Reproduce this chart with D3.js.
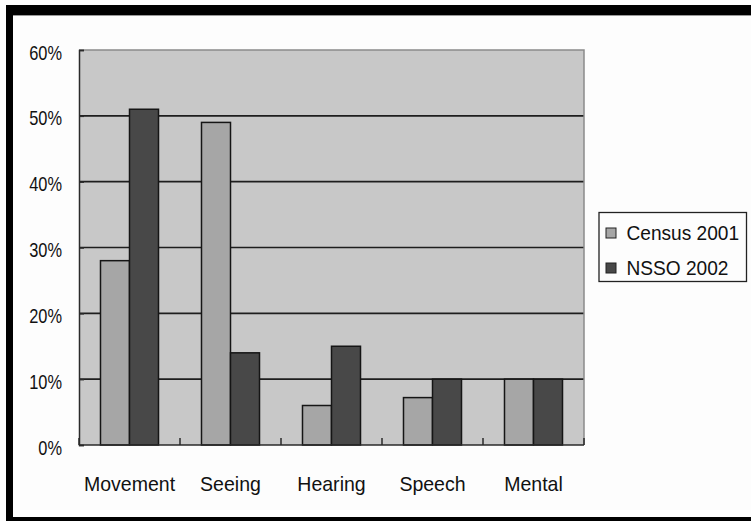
<!DOCTYPE html>
<html>
<head>
<meta charset="utf-8">
<script src="https://cdn.jsdelivr.net/npm/d3@7"></script>
<style>
  html, body { margin: 0; padding: 0; background: #fdfdfd; }
  svg { display: block; }
  text { font-family: "Liberation Sans", Arial, sans-serif; fill: #111; }
</style>
</head>
<body>
<svg id="chart" width="751" height="521"></svg>
<script>
// Share of disabled persons by type of disability
const categories = ["Movement", "Seeing", "Hearing", "Speech", "Mental"];
const seriesNames = ["Census 2001", "NSSO 2002"];
const census2001 = [28, 49, 6, 7.2, 10];
const nsso2002 = [51, 14, 15, 10, 10];
const yTicks = [0, 10, 20, 30, 40, 50, 60];

const seriesValues = [census2001, nsso2002];
const seriesColors = ["#a6a6a6", "#484848"];

const W = 751, H = 521;
const plot = { left: 79, right: 584, top: 50, bottom: 445 };

const svg = d3.select("#chart");

// outer frame (open on the right side)
svg.append("rect").attr("x", 6).attr("y", 5).attr("width", W - 6).attr("height", 10).attr("fill", "#000");
svg.append("rect").attr("x", 6).attr("y", 5).attr("width", 7).attr("height", H - 5).attr("fill", "#000");
svg.append("rect").attr("x", 6).attr("y", 517).attr("width", W - 6).attr("height", 4).attr("fill", "#000");
svg.append("line").attr("x1", 13).attr("x2", W).attr("y1", 15.5).attr("y2", 15.5)
  .attr("stroke", "#999").attr("stroke-width", 1);

const x0 = d3.scaleBand().domain(categories).range([plot.left, plot.right]).padding(0);
const x1 = d3.scaleBand().domain(seriesNames).range([0, x0.bandwidth()])
  .paddingInner(0).paddingOuter(0.741);
const y = d3.scaleLinear().domain([0, 60]).range([plot.bottom, plot.top]);

// plot background
svg.append("rect")
  .attr("x", plot.left).attr("y", plot.top)
  .attr("width", plot.right - plot.left).attr("height", plot.bottom - plot.top)
  .attr("fill", "#c8c8c8");

// horizontal gridlines
svg.append("g").selectAll("line")
  .data(yTicks.filter(t => t > 0 && t < 60))
  .join("line")
  .attr("x1", plot.left).attr("x2", plot.right)
  .attr("y1", d => y(d)).attr("y2", d => y(d))
  .attr("stroke", "#1e1e1e").attr("stroke-width", 1.6);

// top and right edge of the plot area
svg.append("path")
  .attr("d", `M${plot.left},${plot.top}H${plot.right}V${plot.bottom}`)
  .attr("fill", "none").attr("stroke", "#8a8a8a").attr("stroke-width", 1.5);

// bars
const groups = svg.append("g").selectAll("g")
  .data(categories)
  .join("g")
  .attr("transform", d => `translate(${x0(d)},0)`);

groups.selectAll("rect")
  .data((c, i) => seriesNames.map((s, j) => ({ s, v: seriesValues[j][i], j })))
  .join("rect")
  .attr("x", d => x1(d.s))
  .attr("y", d => y(d.v))
  .attr("width", x1.bandwidth())
  .attr("height", d => y(0) - y(d.v))
  .attr("fill", d => seriesColors[d.j])
  .attr("stroke", "#151515")
  .attr("stroke-width", 1.5);

// y axis: ticks point into the plot, labels on the left
const yAxis = d3.axisLeft(y).tickValues(yTicks).tickSize(-5).tickPadding(18)
  .tickFormat(d => d + "%");
const gy = svg.append("g").attr("transform", `translate(${plot.left},0)`).call(yAxis);
gy.select(".domain").attr("stroke", "#2a2a2a").attr("stroke-width", 1.5);
gy.selectAll(".tick line").attr("stroke", "#2a2a2a").attr("stroke-width", 1.5);
gy.selectAll(".tick text")
  .attr("x", -17).attr("dy", null).attr("y", 9)
  .attr("font-size", 21).attr("font-family", "Liberation Sans, Arial, sans-serif")
  .attr("fill", "#111")
  .each(function () {
    const w = this.getComputedTextLength();
    d3.select(this).attr("textLength", w * 0.78).attr("lengthAdjust", "spacingAndGlyphs");
  });

// x axis: ticks at category boundaries pointing upward
const boundaries = d3.range(categories.length + 1).map(i => plot.left + i * x0.step());
svg.append("line")
  .attr("x1", plot.left).attr("x2", plot.right)
  .attr("y1", plot.bottom).attr("y2", plot.bottom)
  .attr("stroke", "#2a2a2a").attr("stroke-width", 1.6);
svg.append("g").selectAll("line")
  .data(boundaries)
  .join("line")
  .attr("x1", d => d).attr("x2", d => d)
  .attr("y1", plot.bottom).attr("y2", plot.bottom - 7)
  .attr("stroke", "#2a2a2a").attr("stroke-width", 1.5);

svg.append("g").selectAll("text")
  .data(categories)
  .join("text")
  .attr("x", d => x0(d) + x0.bandwidth() / 2)
  .attr("y", 491)
  .attr("text-anchor", "middle")
  .attr("font-size", 21)
  .text(d => d)
  .each(function () {
    const w = this.getComputedTextLength();
    d3.select(this).attr("textLength", w * 0.93).attr("lengthAdjust", "spacingAndGlyphs");
  });

// legend
const legend = svg.append("g");
legend.append("rect")
  .attr("x", 599).attr("y", 212.5).attr("width", 147.5).attr("height", 69)
  .attr("fill", "#fdfdfd").attr("stroke", "#222").attr("stroke-width", 1.3);
const items = legend.selectAll("g.item")
  .data(seriesNames)
  .join("g")
  .attr("class", "item")
  .attr("transform", (d, i) => `translate(0,${i * 35})`);
items.append("rect")
  .attr("x", 606).attr("y", 228).attr("width", 10).attr("height", 10)
  .attr("fill", (d, i) => seriesColors[i]).attr("stroke", "#222").attr("stroke-width", 1);
items.append("text")
  .attr("x", 626.5).attr("y", 240)
  .attr("font-size", 21)
  .text(d => d)
  .each(function () {
    const w = this.getComputedTextLength();
    d3.select(this).attr("textLength", w * 0.91).attr("lengthAdjust", "spacingAndGlyphs");
  });
</script>
</body>
</html>
